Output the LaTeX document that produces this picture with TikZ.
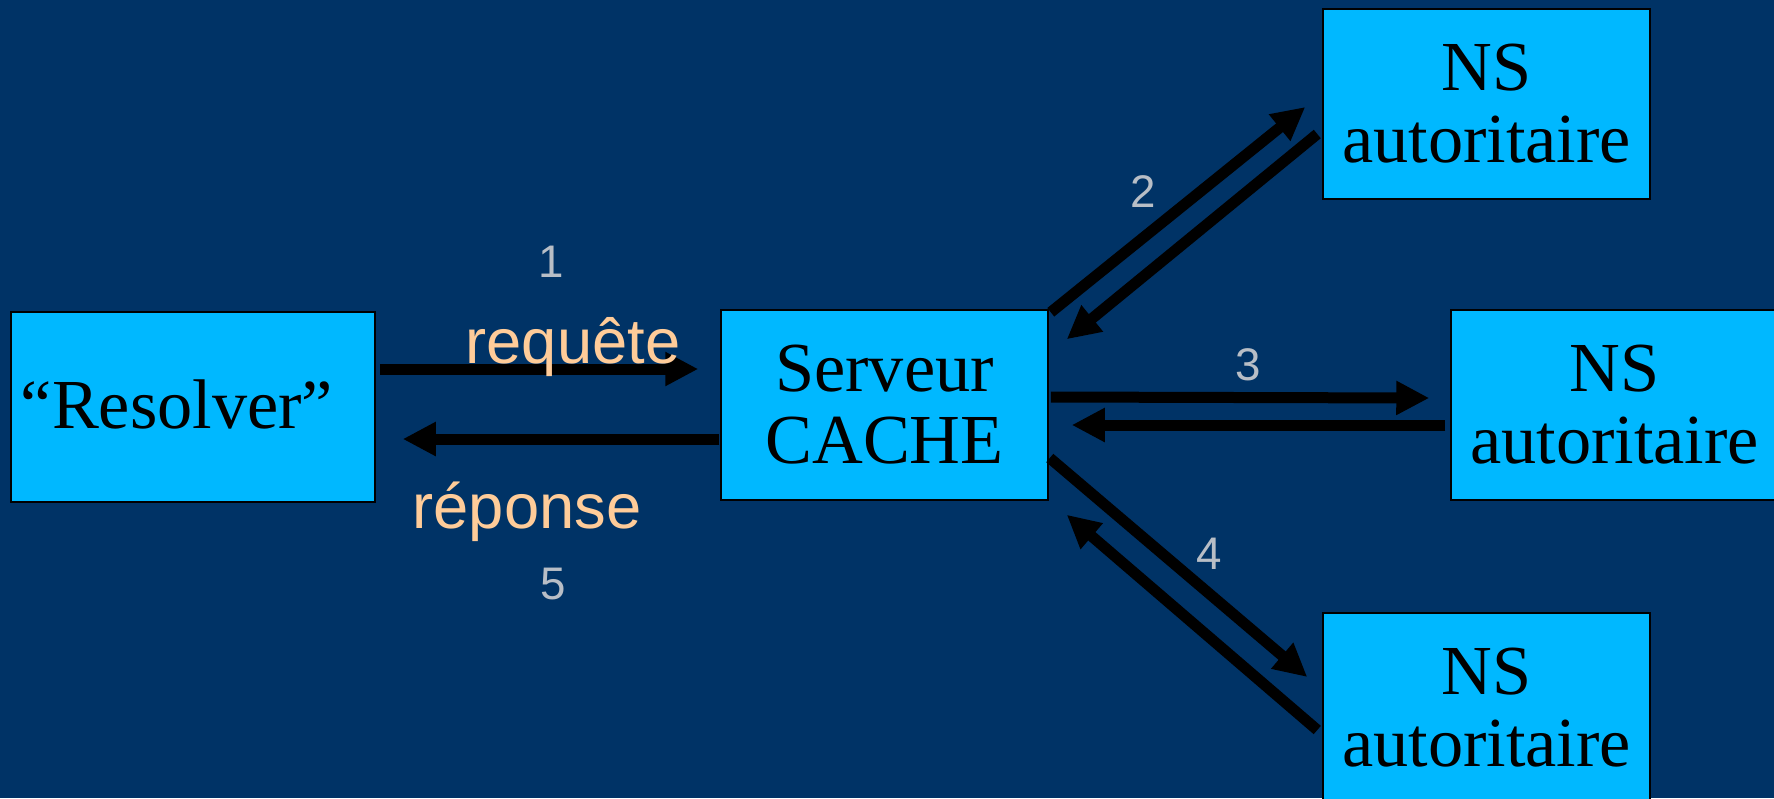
\documentclass[tikz,border=0pt]{standalone}
\usepackage{fontspec}
\setmainfont{Liberation Serif}
\newfontfamily\sansf{Liberation Sans}
\usetikzlibrary{arrows.meta,calc}
\definecolor{bgblue}{RGB}{0,51,102}
\definecolor{boxcyan}{RGB}{0,184,255}
\definecolor{peach}{RGB}{255,204,153}
\definecolor{numgray}{RGB}{184,190,198}
\tikzset{
  box/.style={draw=black, line width=0.15mm, fill=boxcyan, minimum width=32.7mm, minimum height=19mm, inner sep=0pt, align=center, font=\fontsize{20}{20.5}\selectfont},
  boxtext/.style={inner sep=0pt, font=\fontsize{20}{20.5}\selectfont},
  arr/.style={draw=black, line width=1.1mm, -{Triangle[length=3.3mm,width=3.2mm]}},
  lbl/.style={text=peach, inner sep=0pt, font=\sansf\fontsize{18}{20}\selectfont},
  num/.style={text=numgray, inner sep=0pt, font=\sansf\fontsize{13}{15}\selectfont}
}
\begin{document}
\begin{tikzpicture}[x=0.1mm,y=-0.1mm]
\useasboundingbox (0,0) rectangle (1774,798);
\clip (0,0) rectangle (1774,798);
\fill[bgblue] (0,0) rectangle (1774,798);
% boxes
\node[box, minimum width=36.4mm] (resolver) at (193,407) {};
\node[boxtext] (resolvertext) at ($(resolver)+(-16,-3)$) {“Resolver”};
\node[box] (cache) at (884.5,405) {Serveur\\CACHE};
\node[box] (ns1) at (1486.5,104) {NS\\autoritaire};
\node[box] (ns2) at (1614.5,405) {NS\\autoritaire};
\node[box] (ns3) at (1486.5,708) {NS\\autoritaire};
% arrows resolver <-> cache
\draw[arr] ($(resolver.east)+(4,-38)$) -- ($(cache.west)+(-22,-36)$);
\draw[arr] ($(cache.west)+(-1,34)$) -- ($(resolver.east)+(27,32)$);
% cache <-> ns1
\draw[arr] ($(cache.north east)+(2,3)$) -- ($(ns1.west)+(-17,3)$);
\draw[arr] ($(ns1.west)+(-5,30)$) -- ($(cache.north east)+(18,30)$);
% cache <-> ns2
\draw[arr] ($(cache.east)+(2,-8)$) -- ($(ns2.west)+(-21,-7)$);
\draw[arr] ($(ns2.west)+(-5,20)$) -- ($(cache.east)+(23,20)$);
% cache <-> ns3
\draw[arr] ($(cache.east)+(1,53)$) -- ($(ns3.west)+(-15,-31)$);
\draw[arr] ($(ns3.west)+(-5,22)$) -- ($(cache.south east)+(18,14)$);
% labels
\node[lbl, anchor=base] (req) at (573,363) {requête};
\node[lbl, anchor=base] (rep) at (527,528) {réponse};
\node[num] (n1) at (551,262) {1};
\node[num] (n2) at (1143,192) {2};
\node[num] (n3) at (1248,365) {3};
\node[num] (n4) at (1209,554) {4};
\node[num] (n5) at (553,584) {5};
\end{tikzpicture}
\end{document}
